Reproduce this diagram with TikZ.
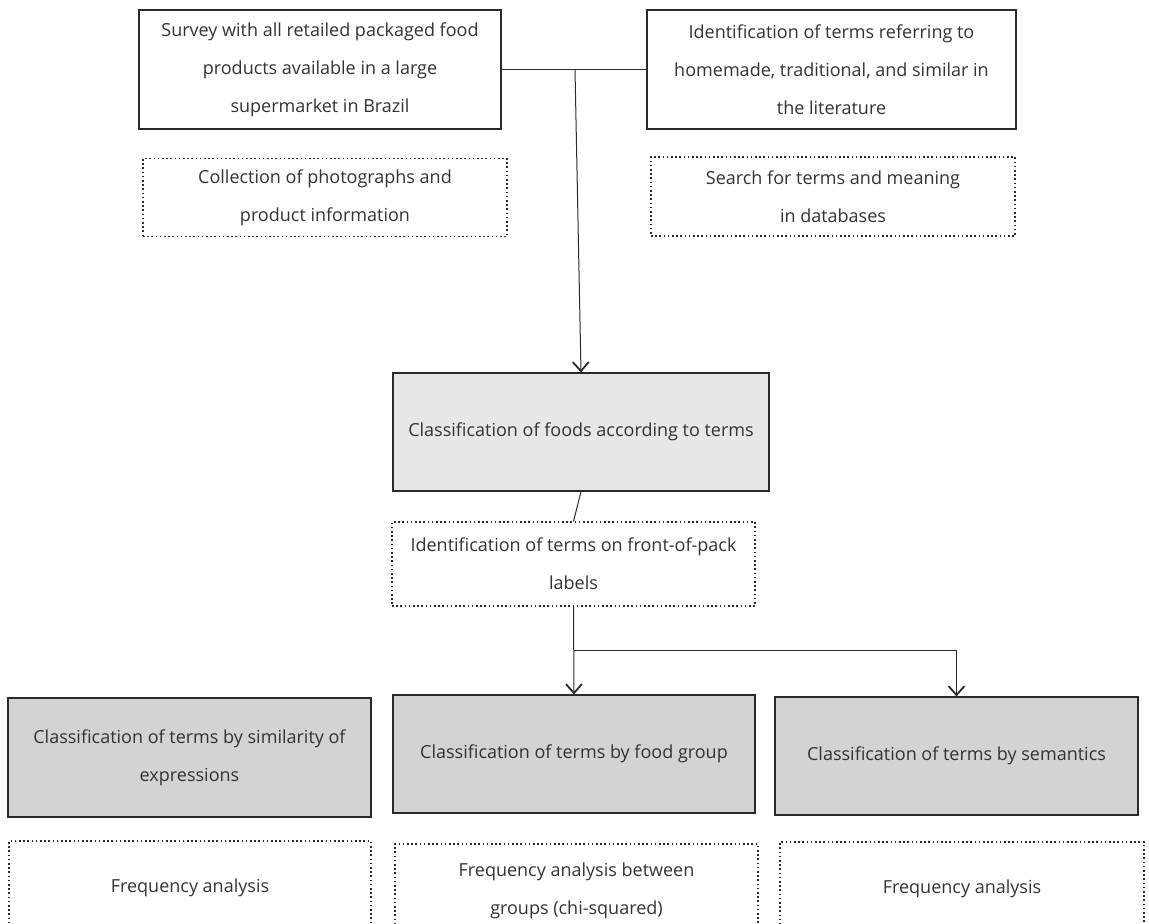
\documentclass[tikz,border=0pt]{standalone}
\usepackage{fontspec}
\setmainfont{Open Sans}
\usepackage{xcolor}
\usepackage{tikz}
\usetikzlibrary{arrows.meta,positioning,calc}

\definecolor{linegray}{HTML}{2B2A2A}
\definecolor{textgray}{HTML}{333333}
\definecolor{lightfill}{HTML}{E6E7E8}
\definecolor{darkfill}{HTML}{D1D3D4}

\begin{document}
\begin{tikzpicture}[
    x=1pt, y=-1pt,
    every node/.style={font=\fontsize{18}{38}\selectfont, text=textgray, align=center, inner sep=0pt},
    solidbox/.style={rectangle, draw=linegray, line width=1.2pt, fill=white},
    dottedbox/.style={rectangle, draw=linegray, line width=1.1pt, dash pattern=on 1.6pt off 2.6pt},
    graybox/.style={solidbox, fill=darkfill},
    arrow/.style={-{Straight Barb[length=9pt,width=16pt,line width=1.8pt]}, draw=linegray, line width=1pt},
    link/.style={draw=linegray, line width=1pt}
]
\useasboundingbox (0,0) rectangle (1149,924);

% Top row: data sources
\node[solidbox, minimum width=362, minimum height=119] (survey) at (320,69.5)
    {Survey with all retailed packaged food\\products available in a large\\supermarket in Brazil};
\node[solidbox, minimum width=369, minimum height=119] (literature) at (831.5,69.5)
    {Identification of terms referring to\\homemade, traditional, and similar in\\the literature};

\node[dottedbox, minimum width=364, minimum height=78] (photos) at (325,197.5)
    {Collection of photographs and\\product information};
\node[dottedbox, minimum width=364, minimum height=79] (databases) at (833,196.5)
    {\fontsize{18}{29}\selectfont Search for terms and meaning\\in databases};

% Middle: classification of foods
\node[solidbox, fill=lightfill, minimum width=376, minimum height=118] (foods) at (581,432)
    {Classification of foods according to terms};
\node[dottedbox, minimum width=363, minimum height=84] (frontpack) at (573.5,564)
    {Identification of terms on front-of-pack\\labels};

% Joining both sources
\coordinate (join) at (575,69.5);
\draw[link] (survey.east) -- (literature.west);
\draw[arrow] (join) -- (foods.north);
\draw[link] (foods.south) -- (frontpack.north);

% Bottom row: classifications of terms
\node[graybox, minimum width=363, minimum height=119] (similarity) at (189.5,757.5)
    {Classification of terms by similarity of\\expressions};
\node[graybox, minimum width=362, minimum height=118] (foodgroup) at (574,754)
    {Classification of terms by food group};
\node[graybox, minimum width=363, minimum height=118] (semantics) at (956.5,756)
    {Classification of terms by semantics};

\coordinate (split) at (573.5,650);
\draw[arrow] (frontpack.south) -- (foodgroup.north);
\draw[arrow] (split) -| (semantics.north);

% Analyses
\node[dottedbox, minimum width=362, minimum height=94] (freqsim) at (190,888)
    {Frequency analysis};
\node[dottedbox, minimum width=363, minimum height=94] (freqgroup) at (576.5,891)
    {Frequency analysis between\\groups (chi-squared)};
\node[dottedbox, minimum width=364, minimum height=94] (freqsem) at (962,889)
    {Frequency analysis};

\end{tikzpicture}
\end{document}
